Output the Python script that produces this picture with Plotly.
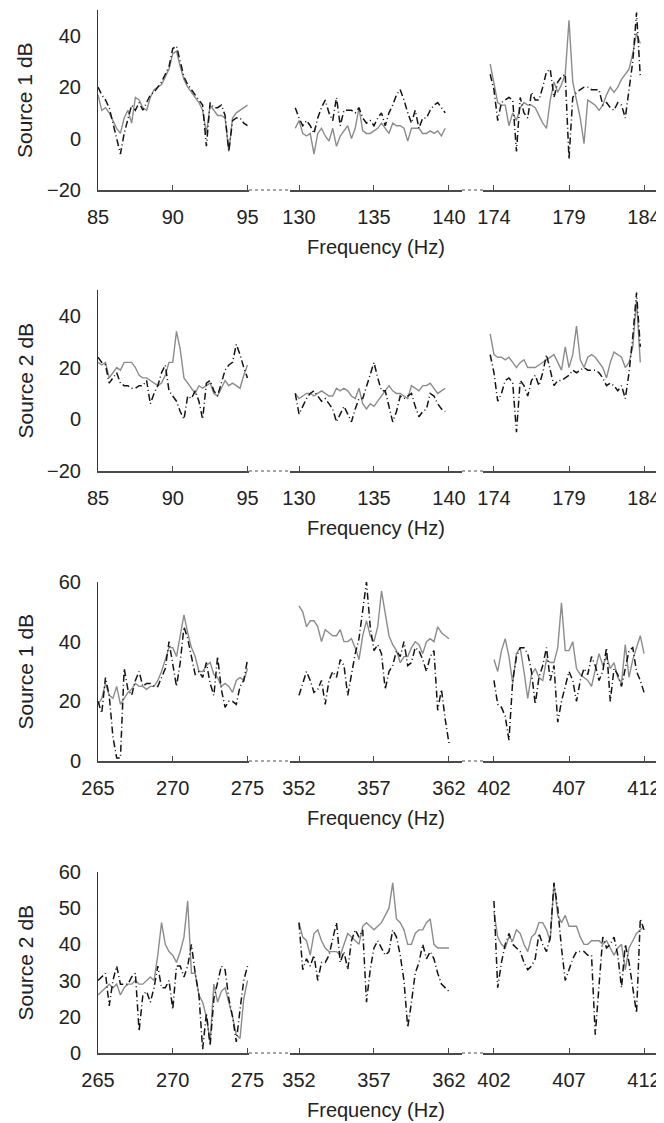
import plotly.graph_objects as go

# ---------------- data ----------------
step = 0.25
p12_starts = [85.0, 129.75, 173.75]
p34_starts = [265.0, 352.0, 402.0]

p12_ticks = [[85, 90, 95], [130, 135, 140], [174, 179, 184]]
p34_ticks = [[265, 270, 275], [352, 357, 362], [402, 407, 412]]

# Panel 1 : Source 1 dB (low band)
p1_s1_gray = [17,11,12,10,7,4,2,8,11,6,16,15,12,11,16,19,20,21,24,27,33,34,28,23,20,18,16,14,11,2,13,11,9,9,8,-5,8,10,11,12,13]
p1_s1_black = [20,17,15,12,6,0,-6,2,8,13,11,14,11,14,17,18,20,22,25,28,35,36,30,24,21,19,17,15,13,-3,14,12,12,13,9,-5,7,8,8,6,5]
p1_s2_gray = [4,7,2,1,2,-6,2,4,1,-1,4,-3,1,3,5,0,4,12,3,2,2,3,4,6,4,2,6,5,5,4,-1,4,4,4,2,2,3,2,3,1,4]
p1_s2_black = [12,8,5,7,5,2,8,12,15,10,7,16,5,11,11,11,10,12,8,6,7,5,8,10,5,10,13,17,19,15,10,6,11,4,8,8,11,13,14,12,10]
p1_s3_gray = [29,22,14,13,13,5,10,7,12,14,13,13,12,9,6,4,15,22,18,21,25,46,22,15,8,-2,15,14,13,11,13,17,20,18,20,23,25,27,33,41,37]
p1_s3_black = [25,19,7,14,15,16,15,-5,16,10,8,18,15,15,20,26,27,16,22,24,25,-8,16,18,19,20,20,19,19,19,13,14,12,11,14,13,8,20,30,49,24]

# Panel 2 : Source 2 dB (low band)
p2_s1_gray = [22,21,22,16,18,20,19,22,22,22,20,17,16,16,15,14,13,14,17,22,22,34,27,16,14,12,10,13,12,13,14,10,9,12,15,13,14,13,12,17,21]
p2_s1_black = [24,22,21,14,16,18,14,13,13,12,12,13,13,15,6,10,13,18,21,11,9,7,3,0,9,8,11,7,0,14,15,11,9,14,19,21,22,29,25,20,16]
p2_s2_gray = [10,8,9,10,10,9,10,11,10,9,9,12,11,12,11,9,8,12,6,4,6,5,7,9,11,13,11,10,10,9,8,13,12,11,13,13,14,12,10,11,12]
p2_s2_black = [10,2,5,8,10,11,9,7,8,6,4,-1,2,5,2,-1,4,8,8,13,17,22,16,11,11,5,-1,3,9,8,9,10,5,1,3,4,10,9,6,4,3]
p2_s3_gray = [33,25,24,24,23,24,22,20,22,23,20,20,20,21,22,23,24,25,22,19,28,20,25,36,23,20,24,25,24,22,20,16,22,26,25,24,20,22,28,46,22]
p2_s3_black = [25,18,7,10,15,16,14,-5,15,13,9,15,17,13,18,25,19,13,15,15,16,17,19,18,19,20,19,19,19,18,16,13,14,13,11,13,8,18,32,49,28]

# Panel 3 : Source 1 dB (high band)
p3_s1_gray = [19,21,26,22,21,25,19,21,23,24,26,25,25,24,25,25,27,30,34,38,38,35,42,49,43,38,35,30,30,32,33,29,28,25,26,25,23,27,28,27,31]
p3_s1_black = [20,16,28,22,8,1,1,31,24,22,27,30,25,26,26,25,25,28,31,40,32,25,33,45,41,35,29,30,28,33,26,22,35,24,18,20,20,19,25,27,34]
p3_s2_gray = [52,50,45,47,47,45,40,44,43,42,42,44,40,40,41,38,34,42,47,42,40,45,57,49,42,39,37,33,35,35,38,40,39,36,40,41,40,45,43,42,41]
p3_s2_black = [22,26,30,27,23,24,27,19,27,30,28,34,32,22,29,36,41,50,60,45,37,39,36,24,30,32,37,35,40,32,33,38,37,34,30,35,37,17,24,14,6]
p3_s3_gray = [34,30,37,41,35,26,36,38,30,21,29,31,28,27,34,33,33,38,53,37,37,40,31,29,28,27,25,30,36,32,35,31,33,28,26,39,28,34,38,42,36]
p3_s3_black = [27,19,18,15,7,27,35,38,38,36,30,19,28,32,38,27,32,13,20,25,30,27,20,27,31,29,35,32,27,30,38,20,31,29,25,31,37,38,30,27,23]

# Panel 4 : Source 2 dB (high band)
p4_s1_gray = [26,27,28,29,28,29,26,28,29,29,30,29,29,30,31,30,37,46,40,38,37,35,38,42,52,32,32,26,24,20,13,29,24,27,28,24,20,15,14,25,30]
p4_s1_black = [30,31,32,23,30,34,29,29,29,31,32,16,26,27,24,28,34,28,28,30,22,34,34,31,34,40,32,26,11,21,12,25,30,34,33,25,20,13,22,30,34]
p4_s2_gray = [46,42,41,37,43,44,41,39,38,38,38,37,40,43,42,41,40,45,46,45,44,45,46,48,50,57,47,46,44,40,40,43,44,44,46,47,40,39,39,39,39]
p4_s2_black = [46,33,36,34,37,30,35,35,37,42,46,35,38,33,41,44,42,44,24,33,39,41,39,37,38,44,42,37,30,17,24,32,35,40,36,38,36,32,29,28,27]
p4_s3_gray = [49,42,40,39,42,41,44,43,40,38,42,43,46,46,44,41,57,48,46,48,45,45,45,42,40,40,41,41,41,40,41,39,37,39,40,33,39,41,43,44,45]
p4_s3_black = [52,28,35,40,43,40,39,38,35,33,34,36,43,40,38,42,57,50,39,30,33,36,38,38,38,37,37,15,30,42,39,40,42,37,28,40,35,28,21,47,44]

y_titles = ["Source 1 dB", "Source 2 dB", "Source 1 dB", "Source 2 dB"]
x_title = "Frequency (Hz)"
y_tickvals = [[-20, 0, 20, 40], [-20, 0, 20, 40], [0, 20, 40, 60], [10, 20, 30, 40, 50, 60]]
y_ticktext = [["\u221220", "0", "20", "40"], ["\u221220", "0", "20", "40"],
              ["0", "20", "40", "60"], ["0", "20", "30", "40", "50", "60"]]

panels = [
    (p12_starts, p12_ticks, [(p1_s1_gray, p1_s1_black), (p1_s2_gray, p1_s2_black), (p1_s3_gray, p1_s3_black)]),
    (p12_starts, p12_ticks, [(p2_s1_gray, p2_s1_black), (p2_s2_gray, p2_s2_black), (p2_s3_gray, p2_s3_black)]),
    (p34_starts, p34_ticks, [(p3_s1_gray, p3_s1_black), (p3_s2_gray, p3_s2_black), (p3_s3_gray, p3_s3_black)]),
    (p34_starts, p34_ticks, [(p4_s1_gray, p4_s1_black), (p4_s2_gray, p4_s2_black), (p4_s3_gray, p4_s3_black)]),
]

# ---------------- layout geometry (page pixels; page body has an 8px margin) ----------------
OFF = 8
W, H = 664 - OFF, 1123 - OFF
FONT = "Liberation Sans, Arial, sans-serif"


def fx(px):
    return (px - OFF) / W


def fy(py):
    return 1 - (py - OFF) / H


seg_px = [(98, 249), (290, 462), (483, 658)]
seg_offsets = [(0.0, 10.1), (0.6, 10.87), (0.73, 10.93)]
panel_px = [(10, 190), (290, 471), (582, 761), (872, 1053)]
y_ranges = [[-20, 50], [-20, 50], [0, 60], [9.96, 60]]

GRAY = "#8c8c8c"
BLACK = "#141414"
AXIS = "#4a4a4a"

fig = go.Figure()
layout = dict(width=W, height=H, margin=dict(l=0, r=0, t=0, b=0, autoexpand=False),
              paper_bgcolor="white", plot_bgcolor="white", showlegend=False,
              font=dict(family=FONT, size=20, color="#222"))
shapes, annotations = [], []

n = 0
for p, (starts, ticks, segs) in enumerate(panels):
    top, bot = panel_px[p]
    ydom = [fy(bot), fy(top)]
    for s in range(3):
        n += 1
        gray, black = segs[s]
        xs = [starts[s] + step * i for i in range(len(gray))]
        xa = "x" if n == 1 else f"x{n}"
        ya = "y" if n == 1 else f"y{n}"
        fig.add_trace(go.Scatter(x=xs, y=gray, mode="lines", xaxis=xa, yaxis=ya,
                                 line=dict(color=GRAY, width=1.4), hoverinfo="skip"))
        fig.add_trace(go.Scatter(x=xs, y=black, mode="lines", xaxis=xa, yaxis=ya,
                                 line=dict(color=BLACK, width=1.5, dash="7px,3px,1px,3px"),
                                 hoverinfo="skip"))
        t0 = ticks[s][0]
        lo, hi = seg_offsets[s]
        l, r = seg_px[s]
        layout["xaxis" if n == 1 else f"xaxis{n}"] = dict(
            domain=[fx(l), fx(r)], anchor=ya, range=[t0 - lo, t0 + hi], automargin=False,
            showline=True, linecolor=AXIS, linewidth=1.5, showgrid=False, zeroline=False,
            ticks="inside", ticklen=5, tickwidth=1.2, tickcolor=AXIS,
            tickvals=ticks[s], ticklabelstandoff=8,
            tickfont=dict(family=FONT, size=20, color="#222"))
        ydict = dict(domain=ydom, anchor=xa, range=y_ranges[p], showgrid=False,
                     zeroline=False, automargin=False)
        if s == 0:
            ydict.update(showline=True, linecolor="#333", linewidth=1, ticks="",
                         tickvals=y_tickvals[p], ticktext=y_ticktext[p], ticklabelstandoff=12,
                         tickfont=dict(family=FONT, size=20, color="#222"))
        else:
            ydict.update(visible=False)
        layout["yaxis" if n == 1 else f"yaxis{n}"] = ydict
        if s == 2:
            annotations.append(dict(x=t0 + hi + 0.3, y=y_ranges[p][0], xref=xa, yref=ya,
                                    ax=-16, ay=0, showarrow=True, arrowhead=2, arrowsize=1,
                                    arrowwidth=1.5, arrowcolor="#333", text=""))
    yb = fy(bot)
    for (a, b) in [(249, 290), (462, 483)]:
        shapes.append(dict(type="line", xref="paper", yref="paper", x0=fx(a), x1=fx(b),
                           y0=yb, y1=yb, line=dict(color="#888", width=1.5, dash="dot")))
    annotations.append(dict(x=fx(25), y=fy((top + bot) / 2), xref="paper", yref="paper",
                            xanchor="center", yanchor="middle",
                            text=y_titles[p], textangle=-90, showarrow=False,
                            font=dict(family=FONT, size=21, color="#222")))
    annotations.append(dict(x=fx(376), y=fy(bot + 57), xref="paper", yref="paper",
                            xanchor="center", yanchor="middle",
                            text=x_title, showarrow=False,
                            font=dict(family=FONT, size=20, color="#222")))

layout["shapes"] = shapes
layout["annotations"] = annotations
fig.update_layout(**layout)
fig.write_html("out.html")
